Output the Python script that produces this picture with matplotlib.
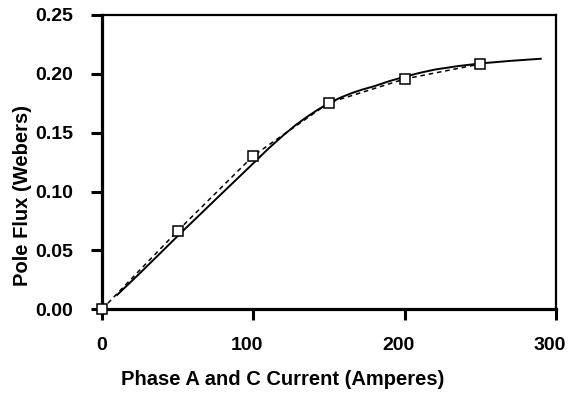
import matplotlib
matplotlib.use("Agg")
import matplotlib.pyplot as plt
from matplotlib.transforms import ScaledTranslation

# Measured data (squares, dashed connecting line)
meas_current = [0, 50, 100, 150, 200, 250]
meas_flux = [0.0, 0.0666, 0.1304, 0.1754, 0.1956, 0.2083]

# Computed curve (solid line)
calc_current = [10, 25, 50, 75, 100, 110, 120, 128, 135, 142, 150, 158, 165, 172, 180, 190, 200, 210, 220, 235, 250, 270, 290]
calc_flux = [0.0122, 0.0306, 0.0622, 0.0932, 0.1240, 0.1365, 0.1480, 0.1565, 0.1630, 0.1690, 0.1752, 0.1800, 0.1836, 0.1866, 0.1895, 0.1938, 0.1975, 0.2008, 0.2036, 0.2065, 0.2088, 0.2110, 0.2128]

x_ticks = [0, 100, 200, 300]
y_ticks = [0.00, 0.05, 0.10, 0.15, 0.20, 0.25]
y_ticklabels = ["0.00", "0.05", "0.10", "0.15", "0.20", "0.25"]

plt.rcParams['font.family'] = ['Liberation Sans', 'DejaVu Sans']

fig = plt.figure(figsize=(5.69, 3.93), dpi=100)
ax = fig.add_axes([0.1793, 0.213, 0.7977, 0.749])

ax.plot(calc_current, calc_flux, color='black', linewidth=1.4, linestyle='-', zorder=2)
ax.plot(meas_current, meas_flux, color='black', linewidth=1.1, linestyle=(0, (3, 2.5)), zorder=2)
ax.plot(meas_current, meas_flux, linestyle='none', marker='s', markersize=6.5,
        markerfacecolor='white', markeredgecolor='black', markeredgewidth=1.1, zorder=3, clip_on=False)

ax.set_xlim(0, 300)
ax.set_ylim(0, 0.25)
ax.set_xticks(x_ticks)
ax.set_xticklabels([str(t) for t in x_ticks], fontsize=14, fontweight='bold')
ax.set_yticks(y_ticks)
ax.set_yticklabels(y_ticklabels, fontsize=14, fontweight='bold')
ax.tick_params(axis='both', direction='out', length=8, width=2.2)
ax.tick_params(axis='x', pad=12)
ax.tick_params(axis='y', pad=13)

# small leftward shift of the x tick labels, as in the reference
shift = ScaledTranslation(-4.5 / 72, 0, fig.dpi_scale_trans)
for lbl in ax.get_xticklabels()[1:]:
    lbl.set_transform(lbl.get_transform() + shift)

for s in ['left', 'bottom']:
    ax.spines[s].set_linewidth(2.3)
for s in ['top', 'right']:
    ax.spines[s].set_linewidth(1.6)

ax.set_xlabel('Phase A and C Current (Amperes)', fontsize=14.5, fontweight='bold')
ax.xaxis.set_label_coords(0.398, -0.205)
ax.set_ylabel('Pole Flux (Webers)', fontsize=14.5, fontweight='bold')
ax.yaxis.set_label_coords(-0.155, 0.388)

fig.savefig('out.png', dpi=100)
